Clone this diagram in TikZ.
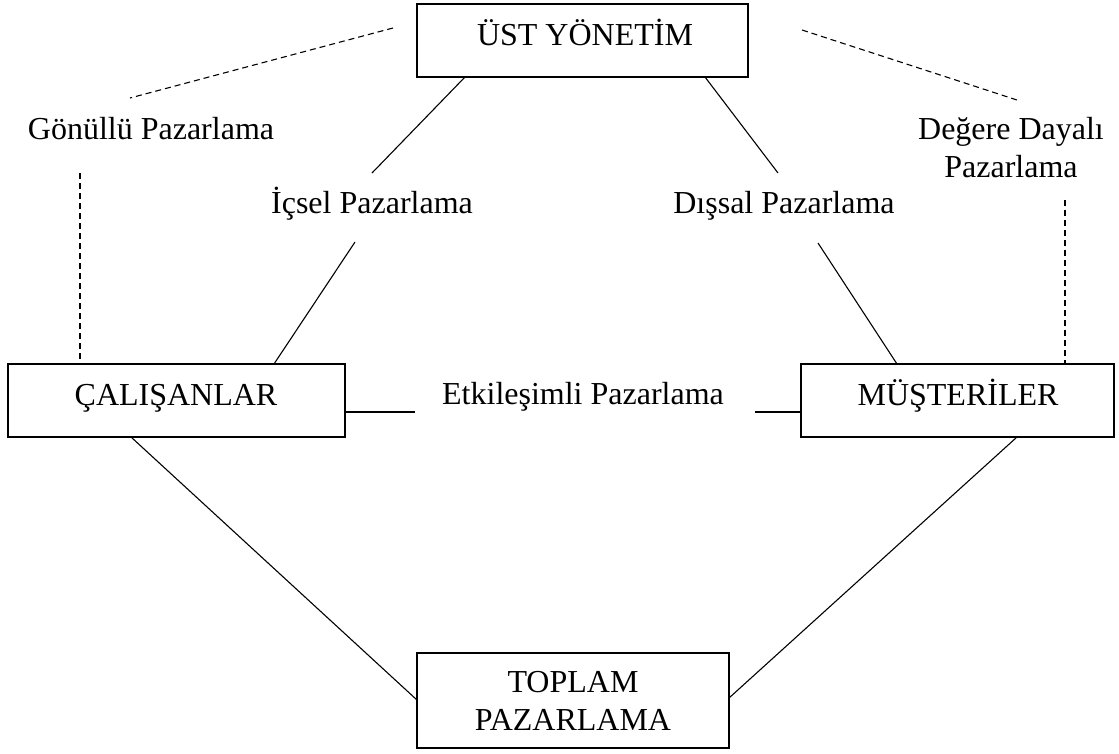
\documentclass[tikz,border=0pt]{standalone}
\usepackage{fontspec}
\setmainfont{Liberation Serif}
\begin{document}
\begin{tikzpicture}[x=1pt,y=-1pt,
  box/.style={draw,line width=1.3pt,align=center},
  txt/.style={inner sep=0pt,align=center,anchor=base,font=\fontsize{32}{37.5}\selectfont},
  link/.style={line width=1.1pt},
  dlink/.style={line width=1.1pt,dash pattern=on 6pt off 4pt}]
\useasboundingbox (0,0) rectangle (1119,753);
% boxes
\draw[box] (417,4) rectangle (748,77);
\draw[box] (8,364) rectangle (345,437);
\draw[box] (801,364) rectangle (1114,437);
\draw[box] (417,653) rectangle (729,748);
% box texts (multi-line nodes sit on the baseline of their last line)
\node[txt] (top) at (585,45) {ÜST YÖNETİM};
\node[txt] (emp) at (176,405) {ÇALIŞANLAR};
\node[txt] (cus) at (958,405) {MÜŞTERİLER};
\node[txt] (tot) at (573,730) {TOPLAM\\PAZARLAMA};
% labels
\node[txt] (vol) at (151,139) {Gönüllü Pazarlama};
\node[txt] (val) at (1011,177) {Değere Dayalı\\Pazarlama};
\node[txt] (int) at (372,213) {İçsel Pazarlama};
\node[txt] (ext) at (784,213) {Dışsal Pazarlama};
\node[txt] (inter) at (583,404) {Etkileşimli Pazarlama};
% line ends
\coordinate (t1) at (465,77);
\coordinate (t2) at (705,77);
\coordinate (i1) at (372,173);
\coordinate (i2) at (355,242);
\coordinate (e1) at (778,173);
\coordinate (e2) at (818,243);
\coordinate (emptop) at (274,364);
\coordinate (custop) at (897,364);
\coordinate (empr) at (345,412);
\coordinate (h1) at (415,412);
\coordinate (h2) at (755,412);
\coordinate (cusl) at (801,412);
\coordinate (d1) at (393,28);
\coordinate (d2) at (130,98);
\coordinate (d3) at (802,30);
\coordinate (d4) at (1017,100);
\coordinate (v1) at (80,173);
\coordinate (v2) at (80,364);
\coordinate (v3) at (1065,200);
\coordinate (v4) at (1065,364);
\coordinate (empbot) at (131,437);
\coordinate (cusbot) at (1017,437);
\coordinate (totl) at (417,700);
\coordinate (totr) at (729,698);
% solid connectors
\draw[link] (t1) -- (i1);
\draw[link] (i2) -- (emptop);
\draw[link] (t2) -- (e1);
\draw[link] (e2) -- (custop);
\draw[link] (empr) -- (h1);
\draw[link] (h2) -- (cusl);
\draw[link] (empbot) -- (totl);
\draw[link] (cusbot) -- (totr);
% dashed connectors
\draw[dlink] (d1) -- (d2);
\draw[dlink] (d3) -- (d4);
\draw[dlink] (v1) -- (v2);
\draw[dlink] (v3) -- (v4);
\end{tikzpicture}
\end{document}
